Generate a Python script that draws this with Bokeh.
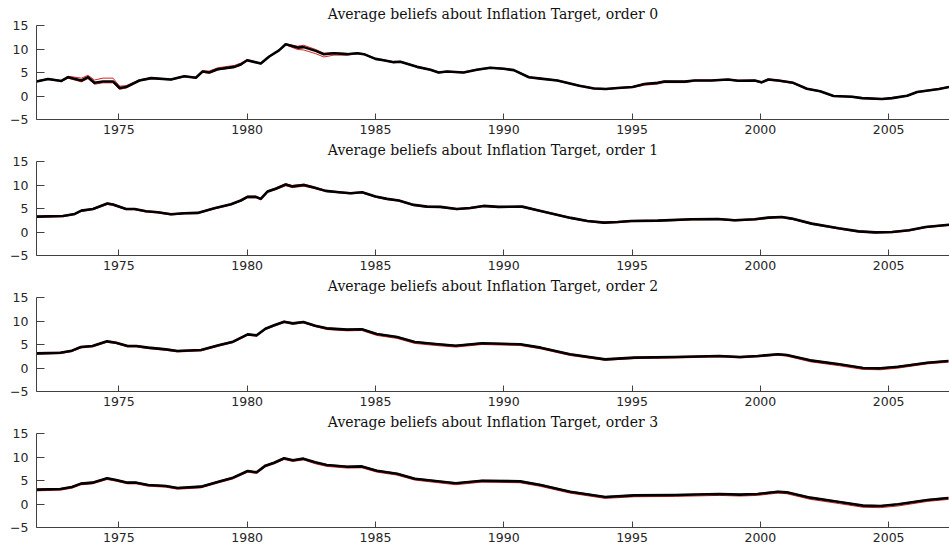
from bokeh.plotting import figure
from bokeh.layouts import column
from bokeh.models import FixedTicker, Range1d
from bokeh.embed import file_html
from bokeh.resources import INLINE

# ---------------- data ----------------
titles = [
    "Average beliefs about Inflation Target, order 0",
    "Average beliefs about Inflation Target, order 1",
    "Average beliefs about Inflation Target, order 2",
    "Average beliefs about Inflation Target, order 3",
]
x_ticks = [1975, 1980, 1985, 1990, 1995, 2000, 2005]
y_ticks = [-5, 0, 5, 10, 15]

# order 0
years0 = [1971.79, 1972.24, 1972.76, 1973.02, 1973.54, 1973.8, 1974.05, 1974.38, 1974.77, 1975.03,
          1975.28, 1975.8, 1976.26, 1977.03, 1977.55, 1978.0, 1978.26, 1978.52, 1978.85, 1979.5,
          1979.75, 1980.0, 1980.53, 1980.86, 1981.24, 1981.5, 1981.96, 1982.2, 1982.67, 1982.99,
          1983.38, 1983.9, 1984.29, 1984.55, 1985.0, 1985.32, 1985.71, 1985.97, 1986.62, 1987.14,
          1987.46, 1987.79, 1988.43, 1988.95, 1989.47, 1990.0, 1990.39, 1990.98, 1991.44, 1992.09,
          1992.94, 1993.52, 1993.98, 1994.44, 1995.02, 1995.48, 1996.0, 1996.26, 1997.05, 1997.44,
          1998.09, 1998.74, 1999.13, 1999.78, 2000.04, 2000.31, 2000.7, 2001.28, 2001.81, 2002.33,
          2002.85, 2003.57, 2003.96, 2004.74, 2005.13, 2005.72, 2006.11, 2006.96, 2007.42]
mean0 = [3.1, 3.6, 3.2, 4.0, 3.3, 4.0, 2.8, 3.1, 3.1, 1.7,
         1.9, 3.3, 3.8, 3.5, 4.2, 3.9, 5.2, 5.0, 5.7, 6.2,
         6.7, 7.6, 6.9, 8.4, 9.7, 11.0, 10.3, 10.4, 9.6, 8.9,
         9.1, 8.9, 9.1, 8.9, 7.9, 7.6, 7.2, 7.3, 6.2, 5.6,
         5.0, 5.2, 5.0, 5.6, 6.0, 5.8, 5.5, 4.0, 3.7, 3.3,
         2.2, 1.6, 1.5, 1.7, 1.9, 2.55, 2.8, 3.1, 3.05, 3.3,
         3.3, 3.5, 3.25, 3.3, 2.9, 3.5, 3.3, 2.8, 1.55, 1.0,
         0.0, -0.15, -0.45, -0.65, -0.45, 0.05, 0.85, 1.5, 2.0]
up0 = [0.1, 0.1, 0.1, 0.2, 0.5, 0.4, 0.6, 0.7, 0.7, 0.4,
       0.3, 0.15, 0.1, 0.1, 0.1, 0.1, 0.2, 0.3, 0.3, 0.3,
       0.3, 0.15, 0.1, 0.1, 0.1, 0.1, 0.3, 0.4, 0.3, 0.2,
       0.15, 0.1, 0.1, 0.1, 0.1, 0.1, 0.1, 0.1, 0.1, 0.1,
       0.1, 0.1, 0.1, 0.1, 0.1, 0.1, 0.1, 0.1, 0.1, 0.1,
       0.1, 0.1, 0.1, 0.1, 0.1, 0.1, 0.1, 0.1, 0.1, 0.1,
       0.1, 0.1, 0.1, 0.1, 0.1, 0.15, 0.1, 0.1, 0.1, 0.1,
       0.1, 0.1, 0.1, 0.1, 0.1, 0.1, 0.1, 0.1, 0.1]
lo0 = [0.1, 0.1, 0.1, 0.2, 0.3, 0.3, 0.3, 0.3, 0.3, 0.3,
       0.2, 0.1, 0.1, 0.1, 0.1, 0.1, 0.15, 0.15, 0.15, 0.15,
       0.15, 0.1, 0.1, 0.1, 0.1, 0.1, 0.4, 0.6, 0.6, 0.6,
       0.4, 0.2, 0.1, 0.1, 0.1, 0.1, 0.1, 0.1, 0.1, 0.1,
       0.1, 0.1, 0.1, 0.1, 0.1, 0.1, 0.1, 0.1, 0.1, 0.1,
       0.1, 0.1, 0.1, 0.1, 0.1, 0.25, 0.25, 0.25, 0.2, 0.1,
       0.1, 0.1, 0.1, 0.1, 0.15, 0.15, 0.15, 0.15, 0.1, 0.1,
       0.1, 0.1, 0.1, 0.1, 0.1, 0.1, 0.1, 0.1, 0.1]

# order 1
years1 = [1971.79, 1972.82, 1973.28, 1973.54, 1973.99, 1974.55, 1974.77, 1975.28, 1975.61, 1976.06,
          1976.52, 1977.03, 1977.55, 1978.07, 1978.72, 1979.37, 1979.75, 1980.01, 1980.34, 1980.53,
          1980.79, 1981.11, 1981.5, 1981.76, 1982.21, 1982.6, 1983.06, 1983.58, 1984.03, 1984.48,
          1985.0, 1985.45, 1985.91, 1986.49, 1987.01, 1987.53, 1988.17, 1988.69, 1989.21, 1989.79,
          1990.72, 1991.44, 1992.61, 1993.26, 1993.91, 1994.44, 1994.96, 1996.0, 1997.31, 1998.35,
          1999.0, 1999.78, 2000.31, 2000.83, 2001.22, 2002.0, 2003.05, 2003.83, 2004.48, 2005.13,
          2005.79, 2006.44, 2007.42]
mean1 = [3.27, 3.4, 3.84, 4.55, 4.9, 6.05, 5.84, 4.9, 4.9, 4.4,
         4.2, 3.77, 4.0, 4.06, 5.05, 5.9, 6.7, 7.47, 7.47, 7.05,
         8.6, 9.2, 10.1, 9.7, 10.0, 9.47, 8.75, 8.47, 8.26, 8.47,
         7.54, 7.05, 6.7, 5.77, 5.4, 5.34, 4.9, 5.12, 5.55, 5.34,
         5.4, 4.48, 3.0, 2.35, 2.0, 2.13, 2.35, 2.42, 2.7, 2.78,
         2.5, 2.7, 3.06, 3.2, 2.85, 1.78, 0.78, 0.14, -0.07, 0.0,
         0.36, 1.07, 1.57]
up1 = [0.1, 0.1, 0.1, 0.1, 0.1, 0.15, 0.15, 0.1, 0.1, 0.1,
       0.1, 0.1, 0.1, 0.1, 0.1, 0.1, 0.1, 0.15, 0.15, 0.15,
       0.15, 0.15, 0.2, 0.2, 0.2, 0.15, 0.1, 0.1, 0.1, 0.1,
       0.1, 0.1, 0.1, 0.1, 0.1, 0.1, 0.1, 0.1, 0.1, 0.1,
       0.1, 0.1, 0.1, 0.1, 0.1, 0.1, 0.1, 0.1, 0.1, 0.1,
       0.1, 0.1, 0.1, 0.1, 0.1, 0.1, 0.1, 0.1, 0.1, 0.1,
       0.1, 0.1, 0.1]
lo1 = [0.15, 0.15, 0.15, 0.15, 0.15, 0.2, 0.2, 0.15, 0.15, 0.15,
       0.15, 0.15, 0.15, 0.15, 0.15, 0.15, 0.15, 0.2, 0.2, 0.2,
       0.2, 0.2, 0.25, 0.25, 0.25, 0.2, 0.15, 0.15, 0.15, 0.15,
       0.15, 0.15, 0.15, 0.15, 0.15, 0.15, 0.15, 0.15, 0.15, 0.15,
       0.15, 0.15, 0.15, 0.15, 0.15, 0.15, 0.15, 0.15, 0.15, 0.15,
       0.15, 0.15, 0.15, 0.15, 0.15, 0.15, 0.15, 0.15, 0.15, 0.15,
       0.15, 0.15, 0.15]

# orders 2 and 3 (same dates)
years23 = [1971.8, 1972.72, 1973.17, 1973.52, 1973.97, 1974.54, 1974.89, 1975.34, 1975.68, 1976.14,
           1976.83, 1977.28, 1978.2, 1978.88, 1979.45, 1980.02, 1980.37, 1980.71, 1981.05, 1981.44,
           1981.78, 1982.19, 1982.65, 1983.1, 1983.9, 1984.47, 1985.05, 1985.84, 1986.53, 1987.33,
           1988.13, 1989.16, 1990.64, 1991.44, 1992.58, 1993.95, 1995.09, 1996.69, 1998.4, 1999.2,
           1999.89, 2000.68, 2001.03, 2001.94, 2003.08, 2004.0, 2004.68, 2005.37, 2006.51, 2007.33]
mean2 = [3.12, 3.26, 3.69, 4.47, 4.68, 5.67, 5.39, 4.68, 4.68, 4.33,
         3.97, 3.62, 3.83, 4.82, 5.6, 7.16, 6.95, 8.37, 9.08, 9.86,
         9.5, 9.79, 9.0, 8.44, 8.16, 8.23, 7.23, 6.6, 5.53, 5.1,
         4.75, 5.25, 5.04, 4.33, 2.91, 1.84, 2.2, 2.34, 2.55, 2.34,
         2.55, 2.91, 2.77, 1.63, 0.78, 0.0, -0.07, 0.28, 1.13, 1.49]
up2 = [0.1, 0.1, 0.1, 0.1, 0.1, 0.1, 0.1, 0.1, 0.1, 0.1,
       0.1, 0.1, 0.1, 0.1, 0.1, 0.1, 0.1, 0.1, 0.1, 0.1,
       0.1, 0.1, 0.1, 0.1, 0.1, 0.1, 0.1, 0.1, 0.1, 0.1,
       0.1, 0.1, 0.1, 0.1, 0.1, 0.1, 0.1, 0.1, 0.1, 0.1,
       0.1, 0.1, 0.1, 0.1, 0.1, 0.1, 0.1, 0.1, 0.1, 0.1]
lo2 = [0.2, 0.2, 0.2, 0.2, 0.2, 0.2, 0.2, 0.2, 0.2, 0.2,
       0.2, 0.2, 0.2, 0.2, 0.2, 0.2, 0.2, 0.2, 0.2, 0.2,
       0.2, 0.2, 0.2, 0.25, 0.25, 0.25, 0.3, 0.3, 0.3, 0.3,
       0.3, 0.25, 0.25, 0.25, 0.25, 0.2, 0.2, 0.2, 0.2, 0.2,
       0.2, 0.2, 0.25, 0.3, 0.3, 0.3, 0.3, 0.3, 0.25, 0.25]
mean3 = [3.05, 3.19, 3.62, 4.33, 4.54, 5.46, 5.1, 4.54, 4.54, 4.04,
         3.83, 3.4, 3.69, 4.75, 5.6, 7.02, 6.74, 8.16, 8.79, 9.72,
         9.29, 9.65, 8.87, 8.3, 7.94, 8.0, 7.09, 6.45, 5.39, 4.89,
         4.4, 4.96, 4.82, 4.04, 2.62, 1.49, 1.84, 1.91, 2.13, 1.99,
         2.13, 2.62, 2.48, 1.35, 0.43, -0.35, -0.43, -0.07, 0.85, 1.28]
up3 = [0.1, 0.1, 0.1, 0.1, 0.1, 0.1, 0.1, 0.1, 0.1, 0.1,
       0.1, 0.1, 0.1, 0.1, 0.1, 0.1, 0.1, 0.1, 0.1, 0.1,
       0.1, 0.1, 0.1, 0.1, 0.1, 0.1, 0.1, 0.1, 0.1, 0.1,
       0.1, 0.1, 0.1, 0.1, 0.1, 0.1, 0.1, 0.1, 0.1, 0.1,
       0.1, 0.1, 0.1, 0.1, 0.1, 0.1, 0.1, 0.1, 0.1, 0.1]
lo3 = [0.25, 0.25, 0.25, 0.25, 0.25, 0.25, 0.25, 0.25, 0.25, 0.25,
       0.25, 0.25, 0.25, 0.25, 0.25, 0.25, 0.25, 0.25, 0.25, 0.25,
       0.25, 0.25, 0.3, 0.3, 0.3, 0.3, 0.3, 0.3, 0.3, 0.3,
       0.3, 0.3, 0.3, 0.3, 0.3, 0.3, 0.3, 0.3, 0.3, 0.3,
       0.3, 0.3, 0.3, 0.35, 0.35, 0.35, 0.35, 0.35, 0.3, 0.3]

panels = [
    (titles[0], years0, mean0, up0, lo0),
    (titles[1], years1, mean1, up1, lo1),
    (titles[2], years23, mean2, up2, lo2),
    (titles[3], years23, mean3, up3, lo3),
]

# ---------------- styling ----------------
AXIS_COLOR = "#404040"
TEXT_COLOR = "#262626"
RED = "#d92323"


def make_panel(title, yrs, mean, up, lo):
    p = figure(width=949, height=136, output_backend="svg", toolbar_location=None,
               x_range=Range1d(1971.79, 2007.37), y_range=Range1d(-5, 15),
               min_border_left=36, min_border_right=0, min_border_top=0, min_border_bottom=0,
               background_fill_color="white", border_fill_color="white")
    p.title.text = title
    p.title.align = "center"
    p.title.text_font = "DejaVu Serif"
    p.title.text_font_size = "14px"
    p.title.text_font_style = "normal"
    p.title.text_color = "#111111"
    p.title.standoff = 7
    p.outline_line_color = None
    p.xgrid.visible = False
    p.ygrid.visible = False

    upper = [m + u for m, u in zip(mean, up)]
    lower = [m - l for m, l in zip(mean, lo)]
    p.line(yrs, upper, line_color=RED, line_width=1)
    p.line(yrs, lower, line_color=RED, line_width=1)
    p.line(yrs, mean, line_color="black", line_width=2.6, line_join="round")

    for ax in (p.xaxis[0], p.yaxis[0]):
        ax.axis_line_color = AXIS_COLOR
        ax.axis_line_width = 1
        ax.major_tick_line_color = AXIS_COLOR
        ax.major_tick_out = 0
        ax.minor_tick_line_color = None
        ax.major_label_text_font = "DejaVu Sans"
        ax.major_label_text_font_size = "12.5px"
        ax.major_label_text_color = TEXT_COLOR
    p.xaxis.ticker = FixedTicker(ticks=x_ticks)
    p.yaxis.ticker = FixedTicker(ticks=y_ticks)
    p.xaxis.major_tick_in = 6
    p.yaxis.major_tick_in = 8
    p.xaxis.major_label_standoff = 5
    p.yaxis.major_label_standoff = 8
    return p


figs = [make_panel(*args) for args in panels]
layout = column(*figs, spacing=0)

open("out.html", "w").write(file_html(layout, INLINE))
